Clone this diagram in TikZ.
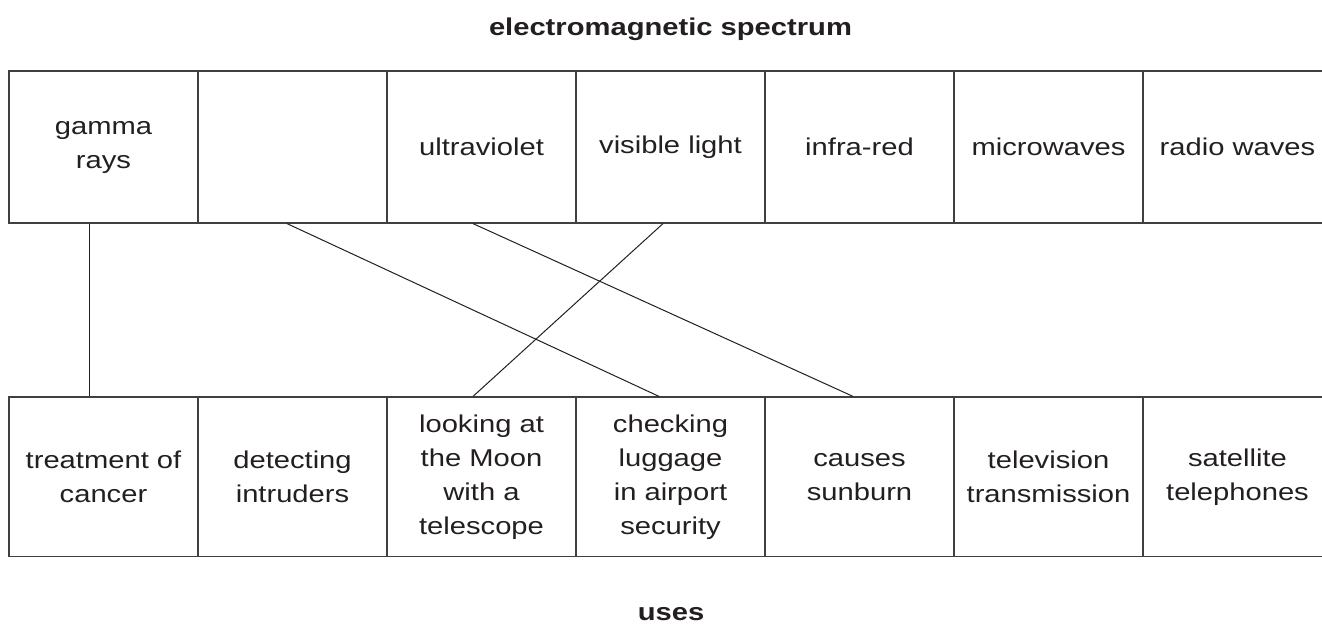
\documentclass[tikz,border=0pt]{standalone}
\usepackage{fontspec}
\setmainfont{Liberation Sans}[FakeStretch=1.2]
\definecolor{ink}{HTML}{231F20}
\begin{document}
\begin{tikzpicture}[x=0.5pt,y=-0.5pt,
        band/.style={draw=black!75, line width=0.6pt, minimum width=94.5pt,
            minimum height=76pt, inner sep=0pt, align=center, text=ink,
            font=\fontsize{12.15}{17}\selectfont},
        useband/.style={band, minimum height=79.75pt},
        heading/.style={text=ink, inner sep=0pt, font=\fontsize{12.15}{17}\selectfont\bfseries},
        link/.style={line width=0.5pt, ink}]
        \useasboundingbox (0,0) rectangle (1322,625);
        % headings
        \node[heading, anchor=base] (title) at (670.5,35.5) {electromagnetic spectrum};
        \node[heading, anchor=base] (uses)  at (671,620.5)  {uses};
        % spectrum row
        \node[band] (gamma)  at (103.5,147)  {gamma\\rays};
        \node[band] (xray)   at (292.5,147)  {};
        \node[band] (uv)     at (481.5,147)  {ultraviolet};
        \node[band] (light)  at (670.5,147)  {visible light};
        \node[band] (ir)     at (859.5,147)  {infra-red};
        \node[band] (micro)  at (1048.5,147) {microwaves};
        \node[band] (radio)  at (1237.5,147) {radio waves};
        % uses row
        \node[useband] (cancer)    at (103.5,476.75)  {treatment of\\cancer};
        \node[useband] (intruders) at (292.5,476.75)  {detecting\\intruders};
        \node[useband] (moon)      at (481.5,476.75)  {looking at\\the Moon\\with a\\telescope};
        \node[useband] (luggage)   at (670.5,476.75)  {checking\\luggage\\in airport\\security};
        \node[useband] (sunburn)   at (859.5,476.75)  {causes\\sunburn};
        \node[useband] (tv)        at (1048.5,476.75) {television\\transmission};
        \node[useband] (phones)    at (1237.5,476.75) {satellite\\telephones};
        % matching lines
        \draw[link] ([xshift=-7.25pt]gamma.south) -- ([xshift=-7.25pt]cancer.north);
        \draw[link] ([xshift=-2.75pt]xray.south)  -- ([xshift=-5.75pt]luggage.north);
        \draw[link] ([xshift=-4.25pt]uv.south)    -- ([xshift=-3.25pt]sunburn.north);
        \draw[link] ([xshift=-3.75pt]light.south) -- ([xshift=-4.25pt]moon.north);
    \end{tikzpicture}
\end{document}
